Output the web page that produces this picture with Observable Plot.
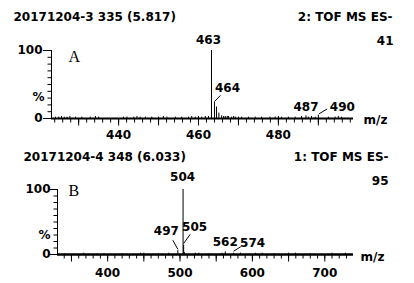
<!DOCTYPE html>
<html><head><meta charset="utf-8">
<script src="https://cdn.jsdelivr.net/npm/d3@7"></script>
<script src="https://cdn.jsdelivr.net/npm/@observablehq/plot@0.6"></script>
<style>
body{margin:0;background:#fff}
</style></head><body><div id="chart" style="width:414px"></div>
<script>
// ---------- Panel A data ----------
const titleA = "20171204-3 335 (5.817)";
const modeA = "2: TOF MS ES-";
const countA = "41";
const letterA = "A";
const domainA = [423.2, 498.8];
const tickLabelsA = [440, 460, 480];
const mzA = [424.2,425.0,425.7,426.4,427.1,427.8,429.2,430.8,432.9,434.2,435.0,
  441.2,442.1,443.8,444.6,445.4,446.7,448.3,450.0,451.2,452.1,454.2,455.8,457.5,458.3,459.2,460.0,460.8,461.7,462.5,
  463.25,464.0,464.5,465.1,465.8,466.3,466.7,467.2,467.5,468.3,468.8,469.2,470.0,470.8,
  472.5,474.2,475.8,477.9,479.2,480.0,480.8,482.5,484.2,485.8,486.9,487.5,488.3,489.2,490.0,492.5,494.2,495.0,495.8];
const intA = [2,2,3,2,2,3,2,2,2,3,2,
  2,2,2,3,2,2,2,2,3,2,2,2,2,3,2,3,2,3,3,
  100,24,17,8,4,3,3,3,3,2,3,2,2,2,
  2,2,2,2,2,3,2,2,2,3,4,2,3,2,5,2,2,3,2];
const peakLabelsA = ["463","464","487","490"];
const peakLabelMzA = [463.25, 464.0, 486.9, 490.0];

// ---------- Panel B data ----------
const titleB = "20171204-4 348 (6.033)";
const modeB = "1: TOF MS ES-";
const countB = "95";
const letterB = "B";
const domainB = [330.7, 739.7];
const tickLabelsB = [400, 500, 600, 700];
const mzB = [340,367,395,420,445.3,450,470,484.5,497,504.2,505,506,521,526,540,558,562.5,574,583.5,604,613.5,630,650,659.5,680,710,728.6];
const intB = [1,2,1,1,2,2,1,2,6,100,14,3,2,2,1,2,4,2,2,2,2,1,2,2,1,2,2];
const peakLabelsB = ["504","505","497","562","574"];
const peakLabelMzB = [504.2, 505, 497, 562.5, 574];

// ---------- layout (annotation offsets) ----------
const layoutA = {
  height: 141, marginLeft: 51, marginRight: 61, marginTop: 50, marginBottom: 23,
  minor: d3.range(424, 499, 2), major: d3.range(430, 499, 10),
  labelDx: [-3, 13, 0, 24], labelDy: [-10, -14, -9, -8],
  leaders: [[464, 25, 465.5, 34], [490.2, 7, 492.2, 14]],
  baseWidth: 2, xPad: 12, yTickSize: 8, yPad: 1,
  title: {dx: -38, dy: -33}, mode: {dx: 39, dy: -33}, count: {dx: 40, dy: -9.5},
  letter: {dx: 17, dy: 6}, mz: {dx: 10, dy: 2}, pctY: 32
};
const layoutB = {
  height: 142, marginLeft: 57, marginRight: 61, marginTop: 48, marginBottom: 29,
  minor: d3.range(340, 740, 10), major: d3.range(350, 740, 50),
  labelDx: [-0.5, 11, -11.5, 0, 19], labelDy: [-12, -18, -19, -10, -10],
  leaders: [[497, 8, 490, 22], [505, 17, 514, 31], [574, 5, 584, 12]],
  baseWidth: 2.5, xPad: 14, yTickSize: 7, yPad: 0,
  title: {dx: -34, dy: -32}, mode: {dx: 35, dy: -32}, count: {dx: 35, dy: -8},
  letter: {dx: 11, dy: 1}, mz: {dx: 7, dy: 3}, pctY: 29
};

function panel(mz, ints, domain, tickLabels, labels, labelMz, title, mode, count, letter, L) {
  const data = mz.map((m, i) => ({mz: m, v: ints[i]}));
  const lab = labels.map((t, i) => {
    const m = labelMz[i];
    const p = data.find(d => d.mz === m);
    return {t, mz: m, v: p ? p.v : 0, dx: L.labelDx[i], dy: L.labelDy[i]};
  });
  const leaders = L.leaders.map(([x1, y1, x2, y2]) => ({x1, y1, x2, y2}));
  const bold = {fontFamily: "DejaVu Sans", fontWeight: "bold", fontSize: 12};
  const x0 = domain[0];
  // pixel -> data-unit conversion for tick lengths
  const yPerPx = 100 / (L.height - L.marginTop - L.marginBottom);
  const xPerPx = (domain[1] - domain[0]) / (414 - L.marginLeft - L.marginRight);
  return Plot.plot({
    width: 414, height: L.height,
    marginLeft: L.marginLeft, marginRight: L.marginRight, marginTop: L.marginTop, marginBottom: L.marginBottom,
    x: {domain, label: null},
    y: {domain: [0, 100], label: null},
    style: {fontFamily: "DejaVu Sans", fontWeight: "bold", fontSize: "12px", color: "#000", background: "#fff", overflow: "visible"},
    marks: [
      Plot.axisX({ticks: tickLabels, tickSize: 0, tickPadding: L.xPad, tickFormat: d => String(d), label: null, ...bold}),
      Plot.axisY({ticks: [0, 100], tickSize: 0, tickPadding: L.yTickSize + L.yPad, tickFormat: d => String(d), label: null, ...bold}),
      // tick marks as rules in data units
      Plot.ruleX(L.minor, {x: d => d, y1: 0, y2: -4.5 * yPerPx, stroke: "#000", strokeWidth: 1}),
      Plot.ruleX(L.major, {x: d => d, y1: 0, y2: -7.5 * yPerPx, stroke: "#000", strokeWidth: 1}),
      Plot.ruleY(d3.range(10, 100, 10), {y: d => d, x1: x0 - 3.5 * xPerPx, x2: x0, stroke: "#000", strokeWidth: 1}),
      Plot.ruleY([0, 100], {y: d => d, x1: x0 - L.yTickSize * xPerPx, x2: x0, stroke: "#000", strokeWidth: 1}),
      Plot.ruleX([x0], {x: d => d, y1: 0, y2: 100, stroke: "#000"}),
      Plot.ruleX(data, {x: "mz", y1: 0, y2: "v", stroke: "#000", strokeWidth: 1}),
      Plot.ruleY([0], {x1: domain[0], x2: domain[1], y: d => d, stroke: "#000", strokeWidth: L.baseWidth}),
      Plot.link(leaders, {x1: "x1", y1: "y1", x2: "x2", y2: "y2", stroke: "#000", strokeWidth: 1}),
      ...lab.map(l => Plot.text([l], {x: "mz", y: "v", text: "t", dx: l.dx, dy: l.dy, lineAnchor: "middle", ...bold})),
      Plot.text(["%"], {x: () => x0, y: () => L.pctY, text: d => d, dx: -7, textAnchor: "end", ...bold}),
      Plot.text([title], {frameAnchor: "top-left", text: d => d, dx: L.title.dx, dy: L.title.dy, textAnchor: "start", lineAnchor: "middle", ...bold}),
      Plot.text([mode], {frameAnchor: "top-right", text: d => d, dx: L.mode.dx, dy: L.mode.dy, textAnchor: "end", lineAnchor: "middle", ...bold}),
      Plot.text([count], {frameAnchor: "top-right", text: d => d, dx: L.count.dx, dy: L.count.dy, textAnchor: "end", lineAnchor: "middle", ...bold}),
      Plot.text([letter], {frameAnchor: "top-left", text: d => d, dx: L.letter.dx, dy: L.letter.dy, textAnchor: "start", lineAnchor: "middle", fontFamily: "Liberation Serif", fontWeight: "normal", fontSize: 16}),
      Plot.text(["m/z"], {frameAnchor: "bottom-right", text: d => d, dx: L.mz.dx, dy: L.mz.dy, textAnchor: "start", lineAnchor: "middle", ...bold})
    ]
  });
}

const chart = document.getElementById("chart");
chart.appendChild(panel(mzA, intA, domainA, tickLabelsA, peakLabelsA, peakLabelMzA, titleA, modeA, countA, letterA, layoutA));
chart.appendChild(panel(mzB, intB, domainB, tickLabelsB, peakLabelsB, peakLabelMzB, titleB, modeB, countB, letterB, layoutB));
</script></body></html>
